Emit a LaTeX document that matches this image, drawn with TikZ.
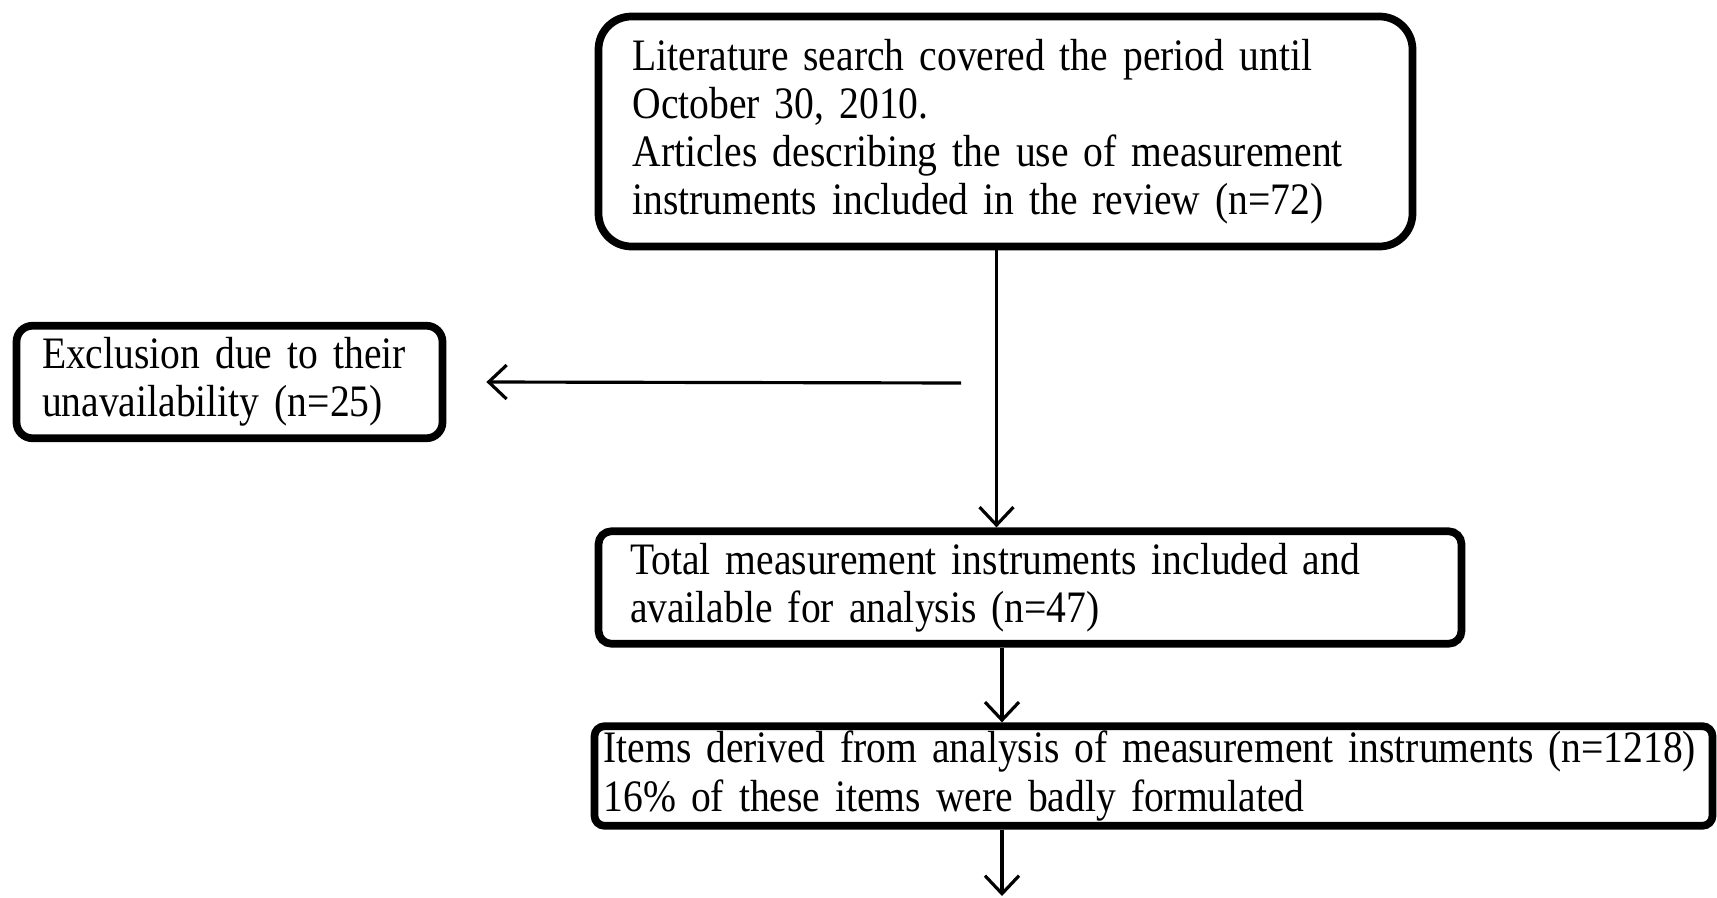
\documentclass[tikz,border=0pt]{standalone}
\usepackage{fontspec}
\setmainfont[FakeStretch=0.88]{Liberation Serif}
\usetikzlibrary{arrows.meta}
\protected\def\boxfont{\fontsize{12.8}{13.7}\selectfont\spaceskip=0.17em\relax}
\begin{document}
\begin{tikzpicture}
		\tikzstyle{box}=[draw,
			line width=2.2pt,
			align=left,
			font=\boxfont,
			];
		\tikzstyle{arrow}=[-{Straight Barb[length=0.18cm,width=0.34cm]},
			line width=0.9pt,
			];

		\useasboundingbox (0,0) rectangle (17.17,-8.98);

		\node [box] (search) at (10.055,-1.315) [rounded corners=0.33cm,minimum width=8.14cm,minimum height=2.3cm,text width=7.46cm] {Literature search covered the period until\\October 30, 2010.\\Articles describing the use of measurement\\instruments included in the review (n=72)};

		\node [box] (excl) at (2.295,-3.82) [rounded corners=0.16cm,minimum width=4.26cm,minimum height=1.11cm,text width=3.75cm] {Exclusion due to their\\unavailability (n=25)};

		\node [box] (total) at (10.30,-5.875) [rounded corners=0.13cm,minimum width=8.63cm,minimum height=1.10cm,text width=8.0cm] {Total measurement instruments included and\\available for analysis (n=47)};

		\node [box] (items) at (11.535,-7.76) [rounded corners=0.1cm,minimum width=11.18cm,minimum height=0.99cm,text width=11.0cm,inner sep=0.05cm] {\mbox{Items derived from analysis of measurement instruments (n=1218)}\\16\% of these items were badly formulated};

		\coordinate (split) at (9.61,-3.83);
		\coordinate (last) at (10.02,-8.96);

		\draw [arrow] ([xshift=-0.09cm]search.south) -- ([xshift=-0.09cm]search.south |- total.north);
		\draw [arrow] (split) -- ([xshift=0.4cm]excl.east);
		\draw [arrow] ([xshift=-0.28cm]total.south) -- ([xshift=-0.28cm]total.south |- items.north);
		\draw [arrow] ([xshift=-0.28cm]total.south |- items.south) -- (last);
	\end{tikzpicture}
\end{document}
